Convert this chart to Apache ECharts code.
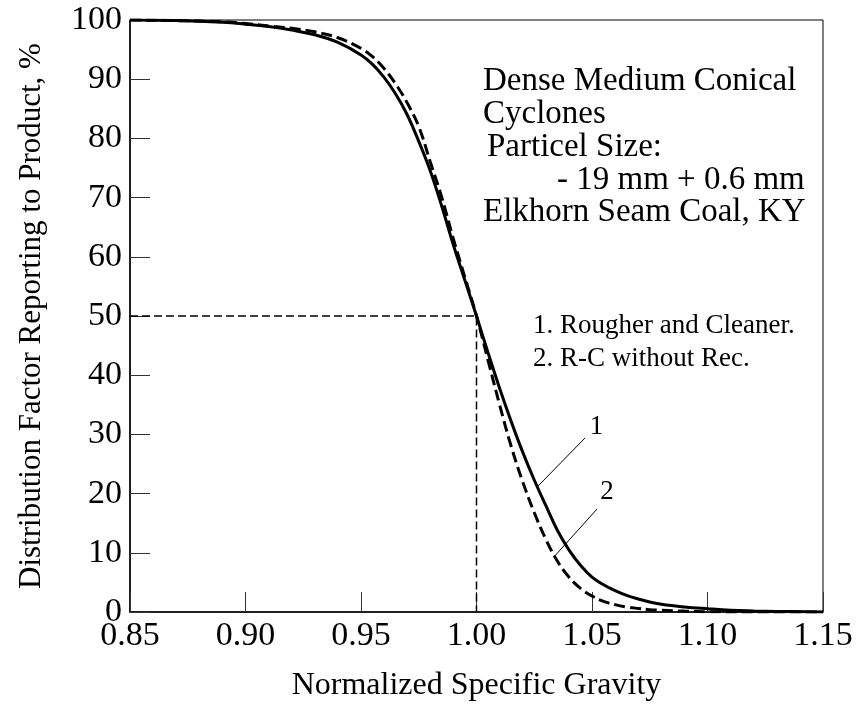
<!DOCTYPE html>
<html>
<head>
<meta charset="utf-8">
<script src="https://cdn.jsdelivr.net/npm/echarts@6/dist/echarts.min.js"></script>
<style>html,body{margin:0;padding:0;background:#fff}#c{width:856px;height:711px}</style>
</head>
<body>
<div id="c"></div>
<script>
// Normalized specific gravity (x) and distribution factor (%) for each curve
const sg1 = [0.85,0.87,0.89,0.90,0.91,0.92,0.93,0.94,0.95,0.955,0.96,0.965,0.97,0.975,0.98,0.985,0.99,0.995,1.00,1.005,1.01,1.015,1.02,1.025,1.03,1.035,1.04,1.045,1.05,1.055,1.06,1.065,1.07,1.075,1.08,1.09,1.10,1.11,1.12,1.13,1.15];
const curve1 = [100,99.9,99.6,99.3,98.9,98.3,97.5,96.2,94.1,92.5,90.3,87.5,84.0,79.5,74.5,68.5,62.0,56.0,50.0,43.8,37.8,32.2,27.0,22.3,18.0,13.8,10.5,7.9,5.9,4.6,3.6,2.8,2.2,1.7,1.3,0.85,0.55,0.3,0.18,0.1,0];
const sg2 = [0.85,0.87,0.89,0.90,0.91,0.92,0.93,0.94,0.95,0.955,0.96,0.965,0.97,0.975,0.98,0.985,0.99,0.995,1.00,1.005,1.01,1.015,1.02,1.025,1.03,1.035,1.04,1.045,1.05,1.055,1.06,1.065,1.07,1.075,1.08,1.09,1.10,1.12,1.15];
const curve2 = [100,99.9,99.7,99.4,99.0,98.6,98.0,97.0,95.2,93.8,91.8,89.2,86.0,82.0,76.0,70.0,63.0,56.5,50.0,42.5,35.0,28.0,22.0,16.8,12.3,8.6,5.9,4.0,2.7,1.8,1.25,0.85,0.6,0.4,0.3,0.15,0.05,0,0];
// 50% cut-point guide
const cutGuide = [[0.85,50],[1.00,50],[1.00,0]];
// leader lines for curve labels
const leader1 = [[1.047,29.4],[1.0262,21.1]];
const leader2 = [[1.0522,17.4],[1.0335,9.3]];
const labelPts = [{name:'1', coord:[1.052,31.3]},{name:'2', coord:[1.0565,20.3]}];
const xTicks = [0.85,0.90,0.95,1.00,1.05,1.10,1.15];
const yTicks = [0,10,20,30,40,50,60,70,80,90,100];
const infoLines = ['Dense Medium Conical','Cyclones','Particel Size:','- 19 mm + 0.6 mm','Elkhorn Seam Coal, KY'];
const legendLines = ['1. Rougher and Cleaner.','2. R-C without Rec.'];

const FONT = '"Liberation Serif","Times New Roman",serif';
const zip = (xs, ys) => xs.map((x,i)=>[x, ys[i]]);

const infoPos = [[483,81],[483,114],[487,147],[557,180],[483,212]];
const legendPos = [[533,326],[533,359]];
const graphics = [];
infoLines.forEach((t,i)=>graphics.push({type:'text',x:infoPos[i][0],y:infoPos[i][1],
  style:{text:t,font:'33px '+FONT,fill:'#000',verticalAlign:'middle',align:'left'}}));
legendLines.forEach((t,i)=>graphics.push({type:'text',x:legendPos[i][0],y:legendPos[i][1],
  style:{text:t,font:'27px '+FONT,fill:'#000',verticalAlign:'middle',align:'left'}}));

const chart = echarts.init(document.getElementById('c'));
chart.setOption({
  animation:false,
  backgroundColor:'#fff',
  textStyle:{fontFamily:FONT,color:'#000'},
  grid:{left:130,top:20,right:33,bottom:99,show:true,borderColor:'#000',borderWidth:1,backgroundColor:'transparent'},
  xAxis:{
    type:'value',min:0.85,max:1.15,interval:0.05,
    name:'Normalized Specific Gravity',nameLocation:'middle',nameGap:58,
    nameTextStyle:{fontFamily:FONT,fontSize:32,color:'#000'},
    axisLine:{lineStyle:{color:'#000',width:1.5}},
    axisTick:{inside:true,length:20,lineStyle:{color:'#333',width:1}},
    splitLine:{show:false},
    axisLabel:{fontFamily:FONT,fontSize:34,color:'#000',margin:7,
      formatter:v=>{const t=xTicks.find(a=>Math.abs(a-v)<1e-6);return t===undefined?'':t.toFixed(2);}}
  },
  yAxis:{
    type:'value',min:0,max:100,interval:10,
    name:'Distribution Factor Reporting to Product, %',nameLocation:'middle',nameGap:83,
    nameTextStyle:{fontFamily:FONT,fontSize:31,color:'#000'},
    axisLine:{lineStyle:{color:'#000',width:1.5}},
    axisTick:{inside:true,length:20,lineStyle:{color:'#333',width:1}},
    splitLine:{show:false},
    axisLabel:{fontFamily:FONT,fontSize:34,color:'#000',margin:8,
      formatter:v=>{const t=yTicks.find(a=>Math.abs(a-v)<1e-6);return t===undefined?'':String(t);}}
  },
  series:[
    {type:'line',data:cutGuide,symbol:'none',silent:true,
      lineStyle:{color:'#000',width:1.5,type:[8,4]}},
    {type:'line',data:zip(sg2,curve2),symbol:'none',smooth:0.4,
      lineStyle:{color:'#000',width:3,type:[11,5]}},
    {type:'line',data:zip(sg1,curve1),symbol:'none',smooth:0.4,
      lineStyle:{color:'#000',width:3},
      markLine:{silent:true,symbol:'none',label:{show:false},
        lineStyle:{color:'#000',width:1,type:'solid'},
        data:[[{coord:leader1[0]},{coord:leader1[1]}],[{coord:leader2[0]},{coord:leader2[1]}]]},
      markPoint:{silent:true,symbol:'circle',symbolSize:1,itemStyle:{color:'transparent'},
        label:{show:true,position:'inside',formatter:p=>p.name,fontFamily:FONT,fontSize:27,color:'#000'},
        data:labelPts}
    }
  ],
  graphic:graphics
});
</script>
</body>
</html>
